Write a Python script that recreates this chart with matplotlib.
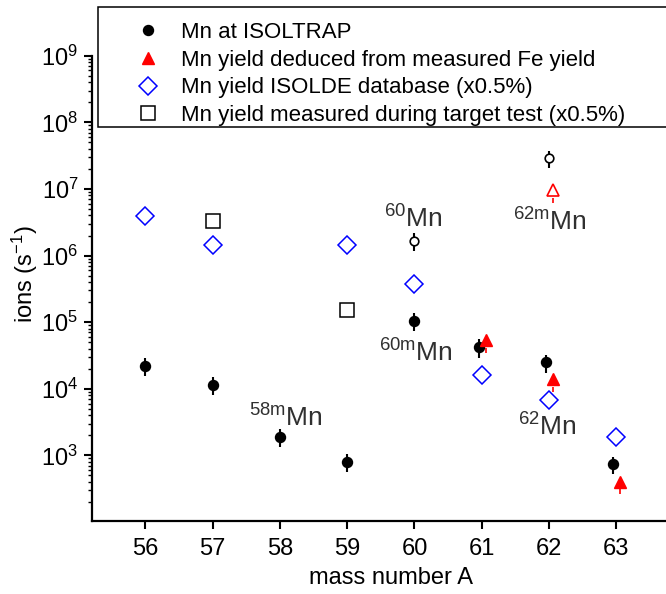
import matplotlib.pyplot as plt
from matplotlib.lines import Line2D
from matplotlib.patches import Rectangle

plt.rcParams['font.family'] = 'Liberation Sans'
plt.rcParams['mathtext.fontset'] = 'custom'
plt.rcParams['mathtext.rm'] = 'Liberation Sans'
plt.rcParams['mathtext.it'] = 'Liberation Sans:italic'
plt.rcParams['mathtext.default'] = 'regular'

# Mn at ISOLTRAP (filled) - ground states / isomers
trap_a = [56, 57, 58, 59, 60, 60.955, 61.955, 62.95]
trap_y = [2.2e4, 1.15e4, 1.9e3, 8.1e2, 1.05e5, 4.2e4, 2.5e4, 7.4e2]
trap_err = [6.6e3, 3.5e3, 5.7e2, 2.4e2, 3.2e4, 1.3e4, 7.5e3, 2.2e2]

# Mn at ISOLTRAP (open)
open_a = [60, 62]
open_y = [1.66e6, 2.9e7]
open_err = [5.0e5, 8.7e6]

# Mn yield deduced from measured Fe yield
fe_a = [61.06, 62.06, 63.055]
fe_y = [5.4e4, 1.4e4, 4.0e2]
fe_err = [1.9e4, 4.9e3, 1.4e2]
fe_open_a = [62.065]
fe_open_y = [9.6e6]
fe_open_err = [3.4e6]

# ISOLDE database (x0.5%)
db_a = [56, 57, 59, 60, 61, 62, 63]
db_y = [3.9e6, 1.45e6, 1.45e6, 3.8e5, 1.6e4, 6.9e3, 1.9e3]

# target test (x0.5%)
test_a = [57, 59]
test_y = [3.3e6, 1.5e5]

# state labels
lab_text = [r'$^{60}$Mn', r'$^{62m}$Mn', r'$^{60m}$Mn', r'$^{58m}$Mn', r'$^{62}$Mn']
lab_a = [59.55, 61.47, 59.47, 57.54, 61.54]
lab_y = [2.6e6, 2.4e6, 2.6e4, 2.75e3, 1.95e3]

W, H = 666, 594
fig = plt.figure(figsize=(W / 100, H / 100), dpi=100)
ax = fig.add_axes([92.3 / W, 1 - 520.7 / H, 1 - 92.3 / W, (520.7 - 55.7) / H])

ax.set_yscale('log')

ax.errorbar(trap_a, trap_y, yerr=trap_err, fmt='o', color='black',
            ms=7.2, elinewidth=1.5, capsize=0, zorder=4)
ax.errorbar(open_a, open_y, yerr=open_err, fmt='o', mfc='white', mec='black',
            ecolor='black', ms=6.2, mew=1.2, elinewidth=1.5, capsize=0, zorder=4)

fe = ax.errorbar(fe_a, fe_y, yerr=[fe_err, [0] * len(fe_err)], fmt='^', color='red',
                 ms=9, elinewidth=1.2, capsize=0, zorder=4)
fe[2][0].set_linestyle((0, (3, 3)))
feo = ax.errorbar(fe_open_a, fe_open_y, yerr=[fe_open_err, [0]], fmt='^', mfc='white',
                  mec='red', ecolor='red', ms=9, mew=1.2, elinewidth=1.2, capsize=0, zorder=4)
feo[2][0].set_linestyle((0, (3, 3)))

ax.plot(db_a, db_y, 'D', mfc='none', mec='#0000ff', ms=9.5, mew=1.1, ls='none', zorder=3)
ax.plot(test_a, test_y, 's', mfc='none', mec='black', ms=9.5, mew=1.1, ls='none', zorder=3)

for t, a, y in zip(lab_text, lab_a, lab_y):
    ax.text(a, y, t, fontsize=19, color='#303030', ha='left', va='baseline')

ax.set_xlim(55.21, 63.74)
ax.set_ylim(10 ** 2.02, 1e9)
ax.set_xticks([56, 57, 58, 59, 60, 61, 62, 63])
ax.set_yticks([1e3, 1e4, 1e5, 1e6, 1e7, 1e8, 1e9])
ax.set_yticklabels([r'$10^{%d}$' % k for k in range(3, 10)])
ax.minorticks_on()
ax.xaxis.set_tick_params(which='minor', bottom=False)

ax.spines['top'].set_visible(False)
ax.spines['right'].set_visible(False)
ax.spines['left'].set_linewidth(1.6)
ax.spines['bottom'].set_linewidth(1.6)
ax.tick_params(which='major', length=6, width=1.5, labelsize=17, pad=4)
ax.tick_params(axis='x', which='major', pad=6.5)
ax.tick_params(which='minor', length=3, width=1)

ax.set_xlabel('mass number A', fontsize=17)
ax.set_ylabel('ions (s$^{-1}$)', fontsize=17)
ax.xaxis.set_label_coords(0.52, -0.099)
ax.yaxis.set_label_coords(-0.0915, 0.5295)

# legend
handles = [
    Line2D([], [], marker='o', color='black', ms=7.2, ls='none'),
    Line2D([], [], marker='^', color='red', ms=8.5, ls='none'),
    Line2D([], [], marker='D', mfc='none', mec='#0000ff', ms=9.5, mew=1.1, ls='none'),
    Line2D([], [], marker='s', mfc='none', mec='black', ms=9.5, mew=1.1, ls='none'),
]
names = ['Mn at ISOLTRAP',
         'Mn yield deduced from measured Fe yield',
         'Mn yield ISOLDE database (x0.5%)',
         'Mn yield measured during target test (x0.5%)']
fig.add_artist(Rectangle((98 / W, 1 - 127.3 / H), 620 / W, 120 / H,
                         transform=fig.transFigure, fill=True, fc='white',
                         ec='black', lw=1.1, clip_on=False, zorder=5))
leg = ax.legend(handles, names, loc='upper left', frameon=False, fontsize=16,
                bbox_to_anchor=(137.2 / W, 1 - 22 / H), bbox_transform=fig.transFigure,
                borderpad=0, borderaxespad=0, handlelength=1.0, handletextpad=0.98,
                labelspacing=0.30, numpoints=1)
leg.set_zorder(6)
leg.remove()
fig.add_artist(leg)

fig.savefig('out.png', dpi=100)
